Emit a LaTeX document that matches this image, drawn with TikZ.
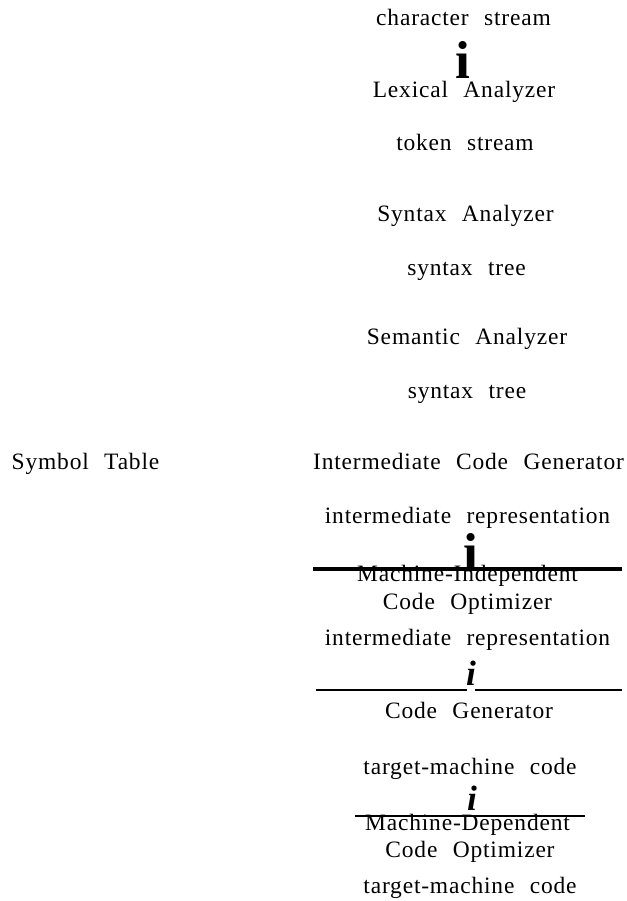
\documentclass[tikz,border=0pt]{standalone}
\usepackage{fontspec}
\setmainfont{Liberation Serif}[LetterSpace=3.5,WordSpace=2.3]
\begin{document}
\begin{tikzpicture}[x=0.75pt,y=-0.75pt,
  lbl/.style={anchor=base,inner sep=0pt,font=\fontsize{17.6}{20}\selectfont},
  boldi/.style={anchor=base,inner sep=0pt,font=\fontsize{40}{44}\selectfont\bfseries},
  itali/.style={anchor=base,inner sep=0pt,font=\fontsize{26.5}{30}\selectfont\bfseries\itshape},
  thickrule/.style={line width=3.2pt},
  thinrule/.style={line width=1.9pt},
  finerule/.style={line width=1.6pt}]
\useasboundingbox (0,0) rectangle (627,901);
% texts
\node[lbl] (cs)   at (463.5,25)  {character stream};
\node[boldi] (i1) at (462.5,78)  {i};
\node[lbl] (la)   at (464,97)    {Lexical Analyzer};
\node[lbl] (ts)   at (465,150)   {token stream};
\node[lbl] (sa)   at (465.5,221) {Syntax Analyzer};
\node[lbl] (st1)  at (466.5,275) {syntax tree};
\node[lbl] (sem)  at (467,344)   {Semantic Analyzer};
\node[lbl] (st2)  at (467,398)   {syntax tree};
\node[lbl] (sym)  at (85.5,469)  {Symbol Table};
\node[lbl] (icg)  at (468.5,469) {Intermediate Code Generator};
\node[lbl] (ir1)  at (467.5,523) {intermediate representation};
\node[boldi] (i2) at (471,570)   {i};
\node[lbl] (mi)   at (467.5,581) {Machine-Independent};
\node[lbl] (co1)  at (467.5,609) {Code Optimizer};
\node[lbl] (ir2)  at (467.5,645) {intermediate representation};
\node[itali] (i3) at (471,685)   {i};
\node[lbl] (cg)   at (469,718)   {Code Generator};
\node[lbl] (tmc1) at (470,774)   {target-machine code};
\node[itali] (i4) at (472,810)   {i};
\node[lbl] (md)   at (467.5,830) {Machine-Dependent};
\node[lbl] (co2)  at (470,857)   {Code Optimizer};
\node[lbl] (tmc2) at (470,893)   {target-machine code};
% rules
\coordinate (r1a) at (313,569);
\coordinate (r1b) at (622,569);
\coordinate (r2a) at (316,690);
\coordinate (r2b) at (467,690);
\coordinate (r2c) at (475,690);
\coordinate (r2d) at (622,690);
\coordinate (r3a) at (355,816);
\coordinate (r3b) at (585,816);
\draw[thickrule] (r1a) -- (r1b);
\draw[thinrule] (r2a) -- (r2b);
\draw[thinrule] (r2c) -- (r2d);
\draw[finerule] (r3a) -- (r3b);
\end{tikzpicture}
\end{document}
